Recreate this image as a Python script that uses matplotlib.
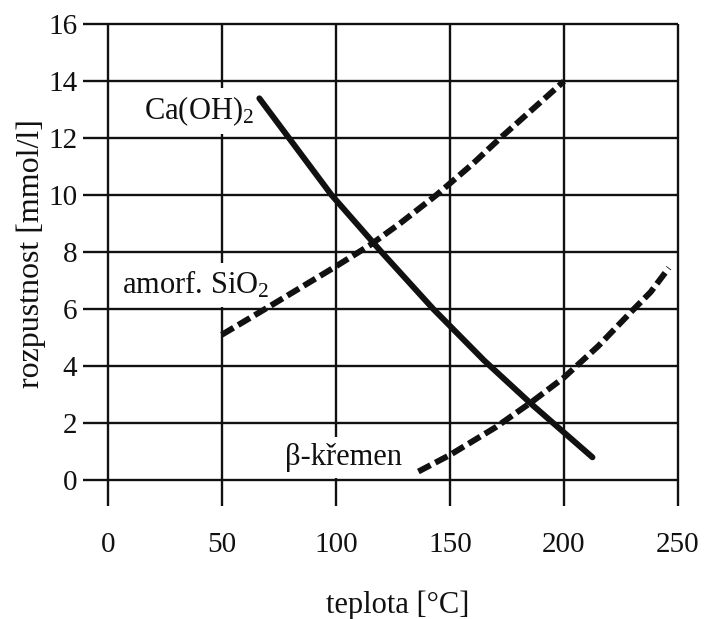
import matplotlib
matplotlib.use("Agg")
import matplotlib.pyplot as plt

plt.rcParams['font.family'] = ['Liberation Serif', 'DejaVu Serif']
plt.rcParams['mathtext.default'] = 'regular'

# solubility curves (temperature in degC, mmol/l)
caoh2_t = [66.5, 98.2, 120.1, 142.8, 165, 186, 212.5]
caoh2_c = [13.4, 10.0, 8.0, 6.0, 4.2, 2.65, 0.8]

sio2_t = [50, 71, 100, 115, 128, 144, 160, 172, 186, 200]
sio2_c = [5.1, 6.1, 7.5, 8.25, 9.0, 10.0, 11.1, 12.0, 13.0, 14.0]

quartz_t = [136.2, 150, 170, 186, 200, 215, 230, 238, 246]
quartz_c = [0.3, 0.88, 1.85, 2.75, 3.6, 4.7, 5.95, 6.6, 7.45]

x_ticks = [0, 50, 100, 150, 200, 250]
y_ticks = [0, 2, 4, 6, 8, 10, 12, 14, 16]

labels = {
    'Ca(OH)$_2$': (40.0, 12.96),
    'amorf. SiO$_2$': (38.7, 6.85),
    'β-křemen': (103.6, 0.8),
}

ink = '#111111'
fs = 22

fig = plt.figure(figsize=(7.05, 6.19), dpi=100)
ax = fig.add_axes([83 / 705, 1 - 506 / 619, 595 / 705, (506 - 24.3) / 619])
x0, y0 = -10.8, -0.91
ax.set_xlim(x0, 250)
ax.set_ylim(y0, 16)
for s in ax.spines.values():
    s.set_visible(False)

# grid doubles as the frame, lines run past the 0 lines like in the original
for y in y_ticks:
    ax.plot([x0, 250], [y, y], color=ink, lw=1.7, zorder=1, clip_on=False,
            solid_capstyle='butt')
for x in x_ticks:
    ax.plot([x, x], [y0, 16], color=ink, lw=1.7, zorder=1, clip_on=False,
            solid_capstyle='butt')

ax.set_xticks(x_ticks)
ax.set_yticks(y_ticks)
ax.tick_params(length=0, labelsize=21, labelcolor=ink)
ax.tick_params(axis='x', pad=19)
ax.tick_params(axis='y', pad=4)

for txt, (x, y) in labels.items():
    ax.text(x, y, txt, fontsize=fs, color=ink, ha='center', va='center', zorder=2,
            bbox=dict(boxstyle='square,pad=0.2', fc='white', ec='none'))

ax.plot(caoh2_t, caoh2_c, color=ink, lw=4.3, zorder=3, solid_capstyle='round')
ax.plot(sio2_t, sio2_c, color=ink, lw=4.3, zorder=3, dashes=(2.3, 0.9))
ax.plot(quartz_t, quartz_c, color=ink, lw=4.3, zorder=3, dashes=(2.3, 0.9))

fig.text(398 / 705, 1 - 605 / 619, 'teplota [°C]', fontsize=fs, color=ink,
         ha='center', va='center')
fig.text(31 / 705, 1 - 254 / 619, 'rozpustnost [mmol/l]', fontsize=23, color=ink,
         ha='center', va='center', rotation=90)

fig.savefig('out.png', dpi=100)
